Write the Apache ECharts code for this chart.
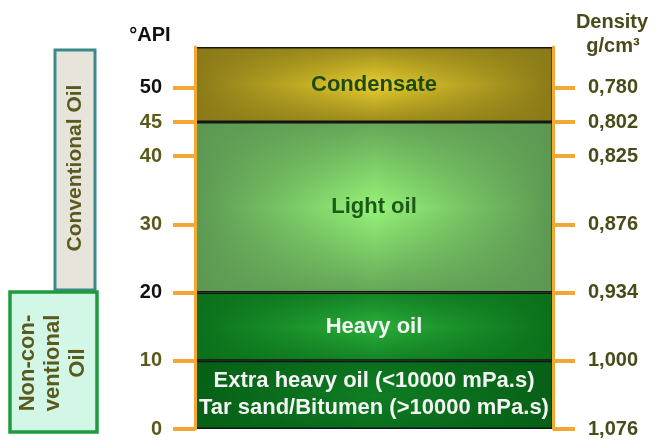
<!DOCTYPE html>
<html>
<head>
<meta charset="utf-8">
<script src="https://cdn.jsdelivr.net/npm/echarts@6/dist/echarts.min.js"></script>
<style>
  html, body { margin: 0; padding: 0; background: #fff; }
  #chart { width: 655px; height: 440px; }
</style>
</head>
<body>
<div id="chart"></div>
<script>
// °API ticks and density at the same ticks
const apiTicks = [0, 10, 20, 30, 40, 45, 50];
const densityLabels = ['1,076', '1,000', '0,934', '0,876', '0,825', '0,802', '0,780'];
// oil bands, bottom to top, with their upper limit in °API
const bandNames = [
  'Extra heavy oil (<10000 mPa.s)\nTar sand/Bitumen (>10000 mPa.s)',
  'Heavy oil',
  'Light oil',
  'Condensate'
];
const bandTops = [10, 20, 45, 56];
const apiMax = 56;

const orange = '#f2a833';
const olive = '#5b5a1d';
const font = 'Liberation Sans, Arial, sans-serif';

// colours per band (edge rgb, centre colour, label colour)
const bandStyles = [
  { edge: [6, 96, 22], center: '#0f7e24', text: '#f4f4f4', alpha: 0.5 },
  { edge: [10, 112, 26], center: '#2aaf3a', text: '#f4f4f4', alpha: 0.7 },
  { edge: [92, 152, 82], center: '#96f478', text: '#1d5a1a', alpha: 0.85 },
  { edge: [138, 122, 24], center: '#e8cf2e', text: '#1f4a14', alpha: 0.8 }
];

const bandSizes = bandTops.map((t, i) => t - (i ? bandTops[i - 1] : 0));

function rgba(c, a) {
  return 'rgba(' + c[0] + ',' + c[1] + ',' + c[2] + ',' + a + ')';
}

const chart = echarts.init(document.getElementById('chart'));

// base layer: horizontal gradient
const baseSeries = bandNames.map((name, i) => {
  const s = bandStyles[i];
  return {
    name: name + ' base',
    type: 'bar',
    stack: 'base',
    barWidth: '100%',
    barGap: '-100%',
    silent: true,
    data: [bandSizes[i]],
    itemStyle: {
      color: {
        type: 'linear', x: 0, y: 0, x2: 1, y2: 0,
        colorStops: [
          { offset: 0, color: rgba(s.edge, 1) },
          { offset: 0.5, color: s.center },
          { offset: 1, color: rgba(s.edge, 1) }
        ]
      }
    }
  };
});

// top layer: vertical shading, borders and labels
const topSeries = bandNames.map((name, i) => {
  const s = bandStyles[i];
  return {
    name: name,
    type: 'bar',
    stack: 'main',
    barWidth: '100%',
    barGap: '-100%',
    data: [bandSizes[i]],
    itemStyle: {
      color: {
        type: 'linear', x: 0, y: 0, x2: 0, y2: 1,
        colorStops: [
          { offset: 0, color: rgba(s.edge, s.alpha) },
          { offset: 0.5, color: rgba(s.edge, 0) },
          { offset: 1, color: rgba(s.edge, s.alpha) }
        ]
      },
      borderColor: '#151515',
      borderWidth: 1.5
    },
    label: {
      show: true,
      position: 'inside',
      formatter: name,
      color: s.text,
      fontFamily: font,
      fontWeight: 'bold',
      fontSize: 22,
      lineHeight: 27
    }
  };
});

const option = {
  animation: false,
  grid: { left: 195, right: 102, top: 47, bottom: 11 },
  xAxis: { type: 'category', data: [''], show: false },
  yAxis: [
    {
      type: 'value',
      position: 'left',
      min: 0,
      max: apiMax,
      z: 5,
      axisLine: { show: true, lineStyle: { color: orange, width: 3 } },
      axisTick: { show: true, length: 22, customValues: apiTicks, lineStyle: { color: orange, width: 4 } },
      axisLabel: {
        customValues: apiTicks,
        margin: 33,
        fontFamily: font,
        fontWeight: 'bold',
        fontSize: 20,
        color: (v) => (Number(v) === 20 || Number(v) === 50 ? '#111' : olive)
      },
      splitLine: { show: false }
    },
    {
      type: 'value',
      position: 'right',
      min: 0,
      max: apiMax,
      z: 5,
      axisLine: { show: true, lineStyle: { color: orange, width: 3 } },
      axisTick: { show: true, length: 22, customValues: apiTicks, lineStyle: { color: orange, width: 4 } },
      axisLabel: {
        customValues: apiTicks,
        margin: 35,
        fontFamily: font,
        fontWeight: 'bold',
        fontSize: 20,
        color: '#4b4a19',
        formatter: (v) => densityLabels[apiTicks.indexOf(Number(v))]
      },
      splitLine: { show: false }
    }
  ],
  series: baseSeries.concat(topSeries),
  graphic: [
    { type: 'text', x: 150, y: 35, style: { text: '°API', font: 'bold 20px ' + font, fill: '#111', align: 'center', verticalAlign: 'middle' } },
    { type: 'text', x: 612, y: 22, style: { text: 'Density', font: 'bold 20px ' + font, fill: '#4b4a19', align: 'center', verticalAlign: 'middle' } },
    { type: 'text', x: 613, y: 46, style: { text: 'g/cm³', font: 'bold 20px ' + font, fill: '#4b4a19', align: 'center', verticalAlign: 'middle' } },
    {
      type: 'rect',
      shape: { x: 55, y: 50, width: 40, height: 240 },
      style: { fill: '#e7e4db', stroke: '#3c8a8c', lineWidth: 3 }
    },
    {
      type: 'text', x: 75, y: 168, rotation: Math.PI / 2,
      style: { text: 'Conventional Oil', font: 'bold 21px ' + font, fill: olive, align: 'center', verticalAlign: 'middle' }
    },
    {
      type: 'rect',
      shape: { x: 10, y: 292, width: 87, height: 140 },
      style: { fill: '#d3f7e7', stroke: '#1f9a3f', lineWidth: 3.5 }
    },
    {
      type: 'text', x: 53, y: 363, rotation: Math.PI / 2,
      style: { text: 'Non-con-\nventional\nOil', font: 'bold 22px ' + font, lineHeight: 25, fill: olive, align: 'center', verticalAlign: 'middle' }
    }
  ]
};

chart.setOption(option);

window.addEventListener('resize', () => {
  chart.resize();
});
</script>
</body>
</html>
